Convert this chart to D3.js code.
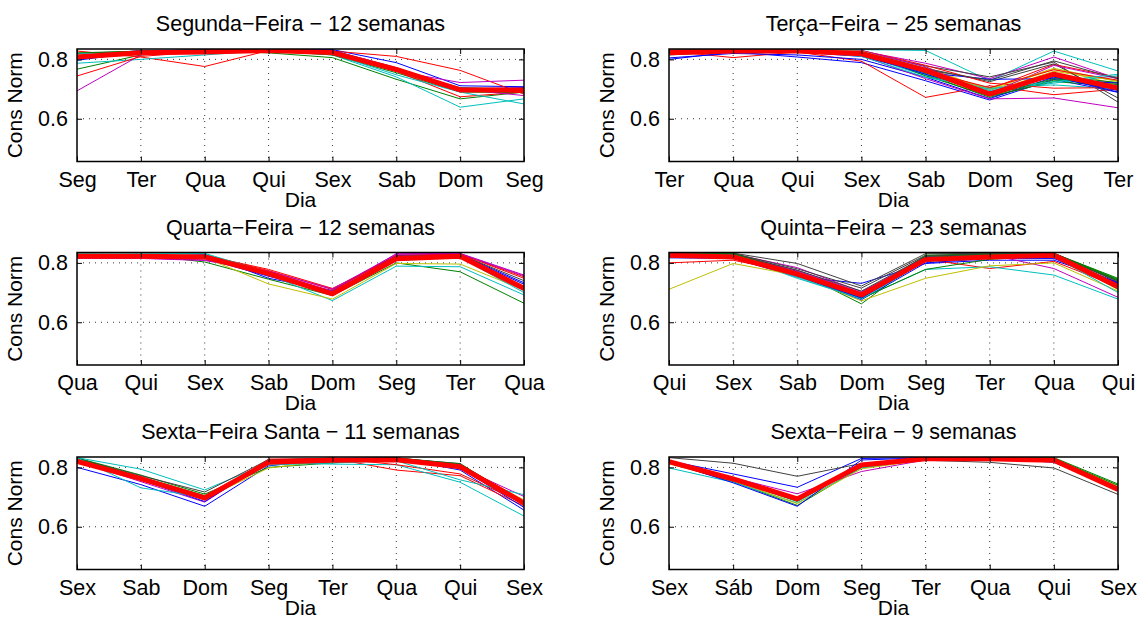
<!DOCTYPE html>
<html><head><meta charset="utf-8">
<script src="https://cdn.jsdelivr.net/npm/d3@7"></script>
<style>body{margin:0;background:#fff}svg{display:block}text{font-family:"Liberation Sans",Arial,Helvetica,sans-serif;fill:#000}</style>
</head><body>
<script>
// ---------- DATA ----------
const yTicks = [0.6, 0.8];
const yDomain = [0.456, 0.835];
const lineColors = ["#0000ff","#008000","#ff0000","#00bfbf","#bf00bf","#bfbf00","#404040"];

const segTitle = "Segunda\u2212Feira \u2212 12 semanas";
const segCats = ["Seg","Ter","Qua","Qui","Sex","Sab","Dom","Seg"];
const segSeries = [
 [0.797,0.825,0.830,0.832,0.833,0.789,0.711,0.708],
 [0.767,0.815,0.830,0.822,0.806,0.733,0.667,0.690],
 [0.828,0.808,0.776,0.830,0.828,0.810,0.763,0.683],
 [0.787,0.800,0.815,0.830,0.815,0.741,0.639,0.667],
 [0.694,0.815,0.828,0.832,0.825,0.760,0.722,0.730],
 [0.815,0.825,0.830,0.832,0.822,0.770,0.700,0.695],
 [0.820,0.828,0.832,0.832,0.826,0.765,0.705,0.700],
 [0.810,0.830,0.832,0.833,0.830,0.772,0.700,0.705],
 [0.822,0.828,0.832,0.828,0.815,0.755,0.690,0.688],
 [0.744,0.810,0.826,0.830,0.820,0.760,0.674,0.690],
 [0.818,0.822,0.825,0.830,0.818,0.748,0.690,0.650],
 [0.812,0.826,0.830,0.832,0.826,0.768,0.700,0.678]
];
const segMean = [0.808,0.822,0.825,0.830,0.823,0.766,0.697,0.697];

const terTitle = "Ter\u00e7a\u2212Feira \u2212 25 semanas";
const terCats = ["Ter","Qua","Qui","Sex","Sab","Dom","Seg","Ter"];
const terSeries = [
 [0.800,0.825,0.808,0.789,0.728,0.663,0.733,0.689],
 [0.825,0.830,0.828,0.820,0.750,0.672,0.730,0.720],
 [0.828,0.806,0.825,0.794,0.672,0.711,0.681,0.700],
 [0.830,0.832,0.833,0.833,0.830,0.728,0.828,0.761],
 [0.828,0.832,0.830,0.828,0.787,0.735,0.808,0.735],
 [0.825,0.830,0.832,0.830,0.775,0.695,0.767,0.715],
 [0.815,0.825,0.828,0.825,0.778,0.741,0.791,0.656],
 [0.805,0.820,0.815,0.800,0.740,0.668,0.740,0.695],
 [0.830,0.832,0.830,0.826,0.760,0.680,0.745,0.722],
 [0.826,0.830,0.830,0.822,0.765,0.700,0.783,0.739],
 [0.832,0.833,0.832,0.815,0.745,0.705,0.714,0.700],
 [0.822,0.828,0.826,0.812,0.735,0.667,0.670,0.637],
 [0.830,0.832,0.832,0.828,0.770,0.690,0.760,0.728],
 [0.820,0.830,0.830,0.826,0.770,0.725,0.785,0.670],
 [0.818,0.828,0.825,0.810,0.755,0.733,0.735,0.720],
 [0.828,0.832,0.830,0.825,0.745,0.676,0.725,0.710],
 [0.832,0.833,0.832,0.830,0.780,0.720,0.703,0.705],
 [0.826,0.830,0.828,0.818,0.750,0.695,0.720,0.745],
 [0.830,0.832,0.832,0.830,0.775,0.685,0.780,0.735],
 [0.828,0.832,0.830,0.828,0.765,0.700,0.770,0.725],
 [0.826,0.830,0.830,0.826,0.765,0.730,0.795,0.735],
 [0.822,0.830,0.828,0.816,0.750,0.690,0.742,0.690],
 [0.830,0.832,0.830,0.822,0.755,0.678,0.735,0.715],
 [0.828,0.830,0.830,0.825,0.760,0.705,0.765,0.730],
 [0.824,0.830,0.830,0.810,0.740,0.700,0.725,0.750]
];
const terMean = [0.822,0.828,0.828,0.819,0.763,0.683,0.750,0.703];

const quaTitle = "Quarta\u2212Feira \u2212 12 semanas";
const quaCats = ["Qua","Qui","Sex","Sab","Dom","Seg","Ter","Qua"];
const quaSeries = [
 [0.825,0.818,0.828,0.748,0.707,0.825,0.828,0.733],
 [0.830,0.828,0.803,0.745,0.690,0.800,0.770,0.664],
 [0.828,0.825,0.825,0.778,0.714,0.820,0.830,0.753],
 [0.826,0.830,0.830,0.760,0.673,0.789,0.787,0.692],
 [0.815,0.815,0.808,0.770,0.705,0.831,0.832,0.759],
 [0.822,0.822,0.818,0.729,0.678,0.798,0.796,0.709],
 [0.828,0.826,0.822,0.765,0.700,0.822,0.828,0.740],
 [0.820,0.820,0.815,0.755,0.702,0.818,0.826,0.728],
 [0.826,0.826,0.820,0.762,0.695,0.812,0.820,0.718],
 [0.822,0.824,0.826,0.774,0.710,0.826,0.830,0.748],
 [0.830,0.830,0.832,0.768,0.695,0.808,0.818,0.700],
 [0.818,0.816,0.810,0.772,0.712,0.829,0.831,0.756]
];
const quaMean = [0.822,0.822,0.820,0.764,0.696,0.814,0.822,0.714];

const quiTitle = "Quinta\u2212Feira \u2212 23 semanas";
const quiCats = ["Qui","Sex","Sab","Dom","Seg","Ter","Qua","Qui"];
const quiSeries = [
 [0.817,0.815,0.753,0.731,0.798,0.809,0.809,0.735],
 [0.830,0.832,0.770,0.662,0.822,0.830,0.832,0.748],
 [0.800,0.809,0.765,0.690,0.812,0.781,0.805,0.720],
 [0.828,0.825,0.748,0.680,0.778,0.787,0.759,0.678],
 [0.830,0.830,0.784,0.703,0.815,0.828,0.781,0.684],
 [0.711,0.798,0.758,0.672,0.748,0.790,0.800,0.705],
 [0.832,0.833,0.798,0.722,0.831,0.832,0.833,0.742],
 [0.826,0.826,0.758,0.676,0.800,0.815,0.815,0.725],
 [0.828,0.830,0.760,0.680,0.778,0.812,0.826,0.740],
 [0.830,0.828,0.762,0.688,0.818,0.826,0.830,0.725],
 [0.826,0.826,0.752,0.678,0.805,0.815,0.822,0.700],
 [0.828,0.828,0.775,0.700,0.820,0.828,0.830,0.715],
 [0.830,0.830,0.768,0.685,0.815,0.825,0.828,0.710],
 [0.830,0.832,0.780,0.715,0.826,0.830,0.832,0.735],
 [0.822,0.822,0.760,0.685,0.810,0.820,0.818,0.730],
 [0.830,0.830,0.768,0.690,0.825,0.830,0.832,0.745],
 [0.828,0.828,0.765,0.695,0.808,0.822,0.828,0.722],
 [0.830,0.828,0.755,0.682,0.812,0.826,0.828,0.712],
 [0.826,0.825,0.772,0.698,0.818,0.828,0.830,0.728],
 [0.828,0.828,0.762,0.688,0.810,0.822,0.826,0.718],
 [0.830,0.830,0.775,0.705,0.822,0.830,0.832,0.738],
 [0.825,0.826,0.756,0.682,0.806,0.820,0.822,0.732],
 [0.830,0.831,0.765,0.688,0.818,0.828,0.830,0.742]
];
const quiMean = [0.826,0.820,0.762,0.692,0.811,0.820,0.826,0.720];

const santaTitle = "Sexta\u2212Feira Santa \u2212 11 semanas";
const santaCats = ["Sex","Sab","Dom","Seg","Ter","Qua","Qui","Sex"];
const santaSeries = [
 [0.800,0.742,0.669,0.805,0.830,0.832,0.791,0.656],
 [0.832,0.774,0.710,0.800,0.815,0.830,0.813,0.680],
 [0.825,0.760,0.692,0.828,0.830,0.791,0.772,0.670],
 [0.833,0.794,0.724,0.815,0.811,0.809,0.750,0.636],
 [0.822,0.752,0.683,0.822,0.828,0.830,0.800,0.702],
 [0.828,0.765,0.695,0.798,0.822,0.828,0.805,0.690],
 [0.830,0.772,0.717,0.826,0.830,0.832,0.812,0.675],
 [0.826,0.758,0.685,0.820,0.828,0.830,0.798,0.665],
 [0.830,0.768,0.705,0.812,0.825,0.832,0.810,0.685],
 [0.828,0.762,0.690,0.824,0.832,0.809,0.778,0.678],
 [0.832,0.731,0.700,0.808,0.815,0.822,0.758,0.708]
];
const santaMean = [0.820,0.762,0.697,0.817,0.824,0.826,0.802,0.680];

const sexTitle = "Sexta\u2212Feira \u2212 9 semanas";
const sexCats = ["Sex","S\u00e1b","Dom","Seg","Ter","Qua","Qui","Sex"];
const sexSeries = [
 [0.822,0.778,0.733,0.830,0.833,0.832,0.817,0.730],
 [0.815,0.752,0.672,0.800,0.828,0.832,0.833,0.744],
 [0.820,0.760,0.690,0.805,0.830,0.830,0.825,0.726],
 [0.798,0.750,0.680,0.798,0.826,0.830,0.828,0.735],
 [0.824,0.765,0.711,0.786,0.825,0.828,0.822,0.730],
 [0.812,0.755,0.678,0.795,0.826,0.830,0.828,0.738],
 [0.833,0.814,0.770,0.813,0.824,0.817,0.798,0.709],
 [0.818,0.748,0.669,0.825,0.832,0.832,0.820,0.722],
 [0.820,0.758,0.685,0.805,0.830,0.832,0.830,0.740]
];
const sexMean = [0.819,0.761,0.694,0.808,0.829,0.829,0.824,0.726];

// ---------- LAYOUT ----------
const W = 1141, H = 619;
const colX = [[77, 524], [669, 1118]];
const rowY = [[49, 161.5], [252.5, 365], [457, 569.5]];
const panels = [
  {title: segTitle, cats: segCats, series: segSeries, mean: segMean, r: 0, c: 0},
  {title: terTitle, cats: terCats, series: terSeries, mean: terMean, r: 0, c: 1},
  {title: quaTitle, cats: quaCats, series: quaSeries, mean: quaMean, r: 1, c: 0},
  {title: quiTitle, cats: quiCats, series: quiSeries, mean: quiMean, r: 1, c: 1},
  {title: santaTitle, cats: santaCats, series: santaSeries, mean: santaMean, r: 2, c: 0},
  {title: sexTitle, cats: sexCats, series: sexSeries, mean: sexMean, r: 2, c: 1}
];

const svg = d3.select("body").append("svg").attr("width", W).attr("height", H);
const defs = svg.append("defs");

panels.forEach((p, i) => {
  const [x0, x1] = colX[p.c];
  const [y0, y1] = rowY[p.r];
  const idx = d3.range(p.cats.length);
  const x = d3.scaleLinear().domain([0, p.cats.length - 1]).range([x0, x1]);
  const y = d3.scaleLinear().domain(yDomain).range([y1, y0]);
  const g = svg.append("g");

  defs.append("clipPath").attr("id", "clip" + i)
    .append("rect").attr("x", x0).attr("y", y0).attr("width", x1 - x0).attr("height", y1 - y0);

  // grid
  const grid = g.append("g").attr("stroke", "#000").attr("stroke-width", 0.8).attr("stroke-dasharray", "1,5").attr("fill", "none");
  idx.slice(1, -1).forEach(k => grid.append("line").attr("x1", x(k)).attr("x2", x(k)).attr("y1", y0).attr("y2", y1));
  yTicks.forEach(t => grid.append("line").attr("x1", x0).attr("x2", x1).attr("y1", y(t)).attr("y2", y(t)));

  // lines
  const line = d3.line().x((d, k) => x(k)).y(d => y(d));
  const lg = g.append("g").attr("clip-path", `url(#clip${i})`).attr("fill", "none");
  p.series.forEach((s, k) => {
    lg.append("path").attr("d", line(s)).attr("stroke", lineColors[k % lineColors.length]).attr("stroke-width", 1);
  });
  lg.append("path").attr("d", line(p.mean)).attr("stroke", "#ff0000").attr("stroke-width", 5).attr("stroke-linejoin", "round");

  // axes
  const xAxisB = d3.axisBottom(x).tickValues(idx).tickFormat(k => p.cats[k]).tickSizeInner(-5).tickSizeOuter(0).tickPadding(10);
  const ab = g.append("g").attr("transform", `translate(0,${y1})`).call(xAxisB);
  ab.select(".domain").remove();
  ab.selectAll("text").attr("font-size", 21.5).attr("dy", "0.71em");
  const xAxisT = d3.axisTop(x).tickValues(idx).tickFormat("").tickSizeInner(-5).tickSizeOuter(0);
  const at = g.append("g").attr("transform", `translate(0,${y0})`).call(xAxisT);
  at.select(".domain").remove();

  const yAxisL = d3.axisLeft(y).tickValues(yTicks).tickFormat(d3.format(".1f")).tickSizeInner(-5).tickSizeOuter(0).tickPadding(9);
  const al = g.append("g").attr("transform", `translate(${x0},0)`).call(yAxisL);
  al.select(".domain").remove();
  al.selectAll("text").attr("font-size", 21.5);
  const yAxisR = d3.axisRight(y).tickValues(yTicks).tickFormat("").tickSizeInner(-5).tickSizeOuter(0);
  const ar = g.append("g").attr("transform", `translate(${x1},0)`).call(yAxisR);
  ar.select(".domain").remove();
  g.selectAll(".tick line").attr("stroke", "#000");

  // box
  g.append("rect").attr("x", x0).attr("y", y0).attr("width", x1 - x0).attr("height", y1 - y0)
    .attr("fill", "none").attr("stroke", "#000").attr("stroke-width", 1.5);

  // titles and labels
  g.append("text").attr("x", (x0 + x1) / 2).attr("y", y0 - 18).attr("text-anchor", "middle").attr("font-size", 21.5).text(p.title);
  g.append("text").attr("x", (x0 + x1) / 2).attr("y", y1 + 45).attr("text-anchor", "middle").attr("font-size", 21).text("Dia");
  g.append("text").attr("transform", `translate(${x0 - 55},${(y0 + y1) / 2}) rotate(-90)`)
    .attr("text-anchor", "middle").attr("font-size", 21).text("Cons Norm");
});
</script>
</body></html>
